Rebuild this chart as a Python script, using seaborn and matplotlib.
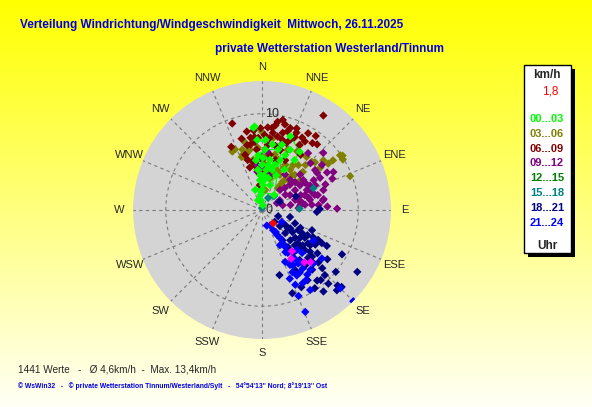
import numpy as np
import pandas as pd
import seaborn as sns
import matplotlib.pyplot as plt
from matplotlib.colors import LinearSegmentedColormap
from matplotlib.patches import Rectangle

# Windrichtung in Grad, Windgeschwindigkeit in km/h, je 3-Stunden-Block
dir_00_03 = [10, 354, 356, 0, 2, 4, 3, 6, 8, 0, 354, 9, 16, 20, 23, 25, 3, 356, 9, 356,
             354, 355, 3, 1, 18, 22, 29, 33, 33, 21, 17, 39, 341, 356,
             338, 357, 353, 11, 14, 15]
spd_00_03 = [0.5, 1.0, 1.6, 2.1, 2.6, 3.1, 3.6, 4.2, 4.7, 4.7, 4.2, 5.3, 4.9, 5.5, 6.2, 6.9, 6.3, 5.7, 6.9, 7.3,
             8.6, 8.7, 7.3, 5.4, 2.7, 3.9, 4.8, 6.2, 7.2, 8.2, 7.1, 2.0, 2.2, 3.1,
             1.1, 3.6, 5.2, 3.4, 4.3, 6.5]

dir_03_06 = [333, 341, 342, 345, 0, 9, 36, 14, 346, 339, 51, 55, 56, 58, 69, 350, 21, 27, 35, 31,
             46, 46, 54, 24, 30, 48, 55, 55, 47, 40, 27, 14, 18, 23, 9, 52, 356, 336,
             4, 13, 37, 35, 43, 36, 9, 19, 27, 41, 39, 38, 36, 6, 16, 44, 342, 349]
spd_03_06 = [6.8, 6.1, 5.8, 6.1, 8.1, 7.6, 3.6, 4.3, 7.2, 5.9, 8.2, 9.0, 10.1, 9.9, 9.8, 5.3, 4.4, 4.1, 5.7, 7.1,
             7.2, 4.1, 7.5, 8.2, 7.8, 7.4, 8.4, 9.9, 5.8, 7.2, 5.3, 3.4, 5.5, 6.8, 2.1, 5.0, 6.5, 6.9,
             4.7, 5.9, 3.9, 5.1, 5.0, 3.2, 5.3, 4.2, 4.9, 4.8, 6.0, 4.2, 2.8, 5.8, 7.0, 6.5, 6.6, 6.4]

dir_06_09 = [341, 344, 334, 349, 354, 354, 354, 355, 9, 10, 13, 8, 12, 16, 20, 31, 36, 32, 37, 40,
             24, 24, 355, 33, 349, 3, 8, 0, 17, 354, 5, 25, 344, 35, 19, 343, 6, 18, 30, 15,
             359, 4, 350, 15, 344, 2, 7, 15, 357, 351, 12, 22, 23, 29, 351, 5, 347]
spd_06_09 = [9.5, 7.7, 7.3, 5.1, 8.3, 7.6, 7.1, 6.3, 8.9, 9.3, 9.6, 8.1, 7.8, 7.6, 7.4, 9.3, 9.5, 8.4, 8.7, 8.9,
             8.8, 8.3, 2.6, 11.7, 8.3, 6.3, 5.8, 5.2, 6.5, 4.2, 6.8, 5.7, 4.6, 7.0, 9.0, 6.0, 7.5, 8.6, 7.8, 5.4,
             8.5, 8.6, 6.9, 8.3, 5.4, 7.8, 8.6, 9.2, 7.5, 7.6, 6.8, 7.9, 9.2, 8.6, 4.7, 4.0, 6.9]

dir_09_12 = [0, 1, 354, 353, 5, 47, 53, 60, 62, 66, 81, 87, 89, 65, 42, 66, 48, 69, 78, 73,
             58, 65, 57, 87, 46, 39, 56, 72, 80, 61, 47, 70, 80, 83, 85, 59, 13, 33, 74, 61,
             57, 75, 62, 79, 60, 50, 46, 71, 75, 84, 75, 43, 54, 68, 63, 83, 53, 77]
spd_09_12 = [5.5, 4.5, 4.7, 4.0, 6.1, 8.7, 7.8, 7.8, 8.4, 8.0, 6.4, 6.8, 7.8, 1.7, 2.8, 5.1, 3.9, 4.3, 5.1, 3.6,
             5.3, 6.1, 2.9, 3.8, 7.0, 7.6, 6.9, 6.7, 6.5, 6.9, 5.4, 5.5, 3.0, 4.5, 5.9, 4.0, 3.7, 4.4, 5.7, 2.1,
             4.7, 5.0, 3.3, 4.2, 6.2, 4.5, 3.3, 4.7, 3.9, 5.2, 6.0, 4.3, 5.3, 7.1, 5.6, 4.0, 6.9, 2.2]

dir_15_18 = [41, 67, 88, 0, 27]
spd_15_18 = [1.9, 5.8, 3.9, 0.2, 1.4]

dir_18_21 = [111, 133, 92, 112, 125, 119, 112, 118, 119, 119, 119, 127, 133, 140, 147, 142, 136, 138, 130, 135,
             137, 146, 143, 165, 160, 153, 133, 133, 136, 130, 120, 135, 146, 145, 144, 143, 142, 133, 128, 126,
             123, 134, 65, 89, 68, 104, 137, 135, 132, 126, 126, 123, 137, 123, 126, 131,
             123, 115, 119, 118, 131, 136, 134, 151, 140, 123]
spd_18_21 = [1.8, 1.8, 5.7, 3.7, 3.3, 4.3, 5.6, 6.0, 7.1, 7.7, 9.5, 8.5, 8.0, 8.1, 8.7, 9.3, 9.4, 10.3, 10.0, 11.1,
             11.4, 9.8, 10.6, 7.0, 9.2, 9.0, 5.1, 6.1, 6.9, 4.5, 4.8, 3.4, 3.8, 4.7, 5.5, 6.5, 7.3, 7.1, 7.3, 5.9,
             11.8, 11.5, 2.0, 6.0, 3.8, 3.0, 4.3, 5.6, 2.5, 6.2, 3.9, 5.3, 5.0, 6.6, 4.9, 6.6,
             2.9, 4.4, 5.4, 6.6, 5.6, 7.5, 8.7, 7.2, 9.5, 3.5]

dir_21_24 = [152, 151, 147, 148, 149, 149, 151, 146, 145, 145, 148, 158, 154, 157, 157, 135, 135, 121, 129, 139,
             137, 136, 121, 163, 149, 148, 146, 149, 141, 156, 148, 151, 153, 152, 151, 156, 149, 144, 153]
spd_21_24 = [1.8, 2.4, 3.5, 4.5, 5.2, 6.1, 6.6, 6.7, 7.4, 8.2, 8.6, 7.7, 7.2, 9.7, 11.5, 13.4, 11.5, 6.2, 8.0, 5.5,
             6.1, 7.7, 2.4, 1.7, 3.0, 4.1, 6.1, 7.6, 8.0, 5.9, 2.7, 5.0, 6.4, 7.7, 8.7, 8.5, 9.7, 6.7, 4.1]

dir_markiert = [144, 149, 141, 137]
spd_markiert = [5.3, 5.9, 7.0, 7.4]

dir_aktuell = [140]
spd_aktuell = [1.8]

richtungen = ['N', 'NNE', 'NE', 'ENE', 'E', 'ESE', 'SE', 'SSE',
              'S', 'SSW', 'SW', 'WSW', 'W', 'WNW', 'NW', 'NNW']
stunden = ['00...03', '03...06', '06...09', '09...12', '12...15', '15...18', '18...21', '21...24']
farben = ['#00ff00', '#808000', '#800000', '#800080', '#008000', '#008080', '#000080', '#0000ff']
max_kmh = 13.4

palette = dict(zip(stunden, farben))
palette['markiert'] = '#ff00ff'
palette['aktuell'] = '#ff0000'

# Zeichenreihenfolge wie im Original: spaetere Gruppen oben
teile = [
    ('03...06', dir_03_06, spd_03_06),
    ('06...09', dir_06_09, spd_06_09),
    ('09...12', dir_09_12, spd_09_12),
    ('15...18', dir_15_18, spd_15_18),
    ('18...21', dir_18_21, spd_18_21),
    ('21...24', dir_21_24, spd_21_24),
    ('markiert', dir_markiert, spd_markiert),
    ('00...03', dir_00_03, spd_00_03),
    ('aktuell', dir_aktuell, spd_aktuell),
]
df = pd.concat([pd.DataFrame({'gruppe': g, 'theta': np.deg2rad(d), 'speed': s}) for g, d, s in teile],
               ignore_index=True)

sns.set_theme(style='white')
plt.rcParams['font.family'] = ['Liberation Sans', 'DejaVu Sans']

fig = plt.figure(figsize=(5.92, 4.07), dpi=100)

# Hintergrund: Verlauf gelb -> fast weiss
bg = fig.add_axes([0, 0, 1, 1], zorder=-10)
verlauf = LinearSegmentedColormap.from_list('bg', ['#ffff00', '#fffff6'])
bg.imshow(np.linspace(0, 1, 256)[:, None], aspect='auto', cmap=verlauf, extent=[0, 1, 0, 1])
bg.axis('off')

ax = fig.add_axes([0.2247, 0.1671, 0.4358, 0.6339], projection='polar')
ax.set_theta_zero_location('N')
ax.set_theta_direction(-1)
ax.set_facecolor('#d4d4d4')

# gruene Linie fuer 00...03
ax.plot(np.deg2rad(dir_00_03), spd_00_03, color='#00ff00', lw=0.9, zorder=4)
sns.scatterplot(data=df, x='theta', y='speed', hue='gruppe', palette=palette, marker='D',
                s=18, linewidth=0, legend=False, ax=ax, zorder=5)

ax.set_xlabel('')
ax.set_ylabel('')
ax.set_ylim(0, max_kmh)
winkel = np.deg2rad(np.arange(0, 360, 22.5))
ax.set_xticks(winkel)
ax.set_xticklabels([])
ax.set_yticks([10])
ax.set_yticklabels([])
ax.grid(True, color='#7a7a7a', linestyle=(0, (3, 3)), linewidth=0.8)
ax.spines['polar'].set_visible(False)
# Himmelsrichtungen ausserhalb des Kreises, zentriert
for w, name in zip(winkel, richtungen):
    ax.text(w, max_kmh * 1.11, name, ha='center', va='center', fontsize=8, clip_on=False)
ax.text(np.deg2rad(2), 10, '10', ha='left', va='center', fontsize=9, zorder=6)
ax.text(np.deg2rad(90), 0.35, '0', ha='left', va='center', fontsize=9, zorder=6)

# Titel
fig.text(20 / 592, 1 - 25 / 407, 'Verteilung Windrichtung/Windgeschwindigkeit  Mittwoch, 26.11.2025',
         color='#0000e0', fontsize=8.5, fontweight='bold', va='center')
fig.text(215 / 592, 1 - 49 / 407, 'private Wetterstation Westerland/Tinnum',
         color='#0000e0', fontsize=8.5, fontweight='bold', va='center')

# Legende rechts
fig.add_artist(Rectangle((528 / 592, 1 - 257 / 407), 47 / 592, 188 / 407,
                         transform=fig.transFigure, facecolor='black', edgecolor='none'))
fig.add_artist(Rectangle((524 / 592, 1 - 253 / 407), 47 / 592, 188 / 407,
                         transform=fig.transFigure, facecolor='white', edgecolor='black', linewidth=1))
lx = 547 / 592
fig.text(lx, 1 - 75 / 407, 'km/h', ha='center', va='center', fontsize=8.5, fontweight='bold')
fig.text(550 / 592, 1 - 91 / 407, '1,8', ha='center', va='center', fontsize=8.5, color='#ff0000')
for i, (lab, col) in enumerate(zip(stunden, farben)):
    fig.text(lx, 1 - (119 + i * 14.8) / 407, lab, ha='center', va='center',
             fontsize=8, fontweight='bold', color=col)
fig.text(lx, 1 - 246 / 407, 'Uhr', ha='center', va='center', fontsize=8.5, fontweight='bold')

# Fusszeilen
fig.text(18 / 592, 1 - 370 / 407, '1441 Werte   -   \u00d8 4,6km/h  -  Max. 13,4km/h',
         ha='left', va='center', fontsize=7.2)
fig.text(18 / 592, 1 - 386 / 407,
         "\u00a9 WsWin32   -   \u00a9 private Wetterstation Tinnum/Westerland/Sylt   -   54\u00b054'13'' Nord; 8\u00b019'13'' Ost",
         ha='left', va='center', fontsize=4.9, fontweight='bold', color='#0000e0')

fig.savefig('out.png', dpi=100)
